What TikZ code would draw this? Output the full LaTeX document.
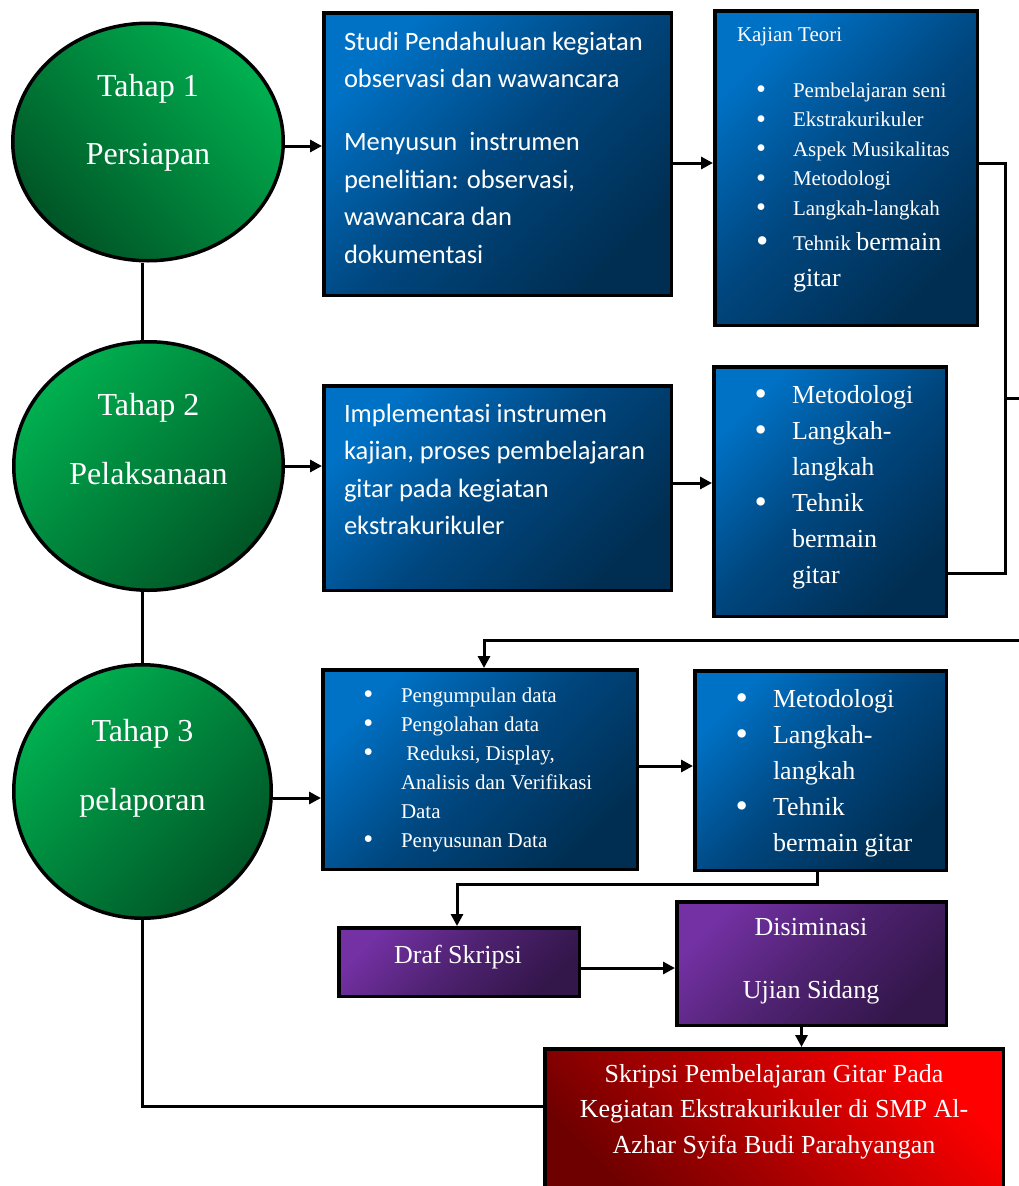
\documentclass[tikz,border=0pt]{standalone}
\usepackage{fontspec}
\setmainfont{Liberation Serif}
\newfontfamily\calib{Carlito}
\usetikzlibrary{arrows.meta,shapes.geometric}

\definecolor{hijauT}{HTML}{00B050}
\definecolor{hijauG}{HTML}{005526}
\definecolor{biruT}{HTML}{0072C6}
\definecolor{biruM}{HTML}{00467E}
\definecolor{biruG}{HTML}{002E52}
\definecolor{unguT}{HTML}{7331A3}
\definecolor{unguM}{HTML}{4E2270}
\definecolor{unguG}{HTML}{33164A}
\definecolor{merahT}{HTML}{FF0000}
\definecolor{merahG}{HTML}{6E0000}

\newcommand{\ukuran}[2]{\fontsize{#1}{#2}\selectfont}
\newcommand{\bul}[1]{\makebox[#1][l]{\raisebox{-0.08em}{\scalebox{1.35}{\textbullet}}}}
\newcommand{\atas}{\rule{0pt}{20pt}}

\begin{document}
\begin{tikzpicture}[x=1pt,y=-1pt,
	garis/.style={draw=black,line width=3pt},
	panah/.style={garis,-{Triangle[length=12pt,width=12pt]}},
	tahap/.style={ellipse,draw=black,line width=3.5pt,inner sep=0pt,
		top color=hijauT,bottom color=hijauG},
	kotak/.style={rectangle,draw=black,line width=3.5pt,inner sep=0pt,anchor=north west},
	biru/.style={kotak,top color=biruT,bottom color=biruG,middle color=biruM,shading angle=45},
	ungu/.style={kotak,top color=unguT,bottom color=unguG,middle color=unguM,shading angle=45},
	merah/.style={kotak,top color=merahT,bottom color=merahG,shading angle=-45},
	teks/.style={text=white,inner sep=0pt,outer sep=0pt},
	judul/.style={teks,font=\ukuran{32}{38},anchor=base},
	sans/.style={teks,font=\calib\ukuran{26.5}{37.5},align=left,anchor=north west},
	kecil/.style={teks,font=\ukuran{21}{29.5},align=left,anchor=north west},
	besar/.style={teks,font=\ukuran{26}{36},align=left,anchor=north west}]
	\useasboundingbox (0,0) rectangle (1019,1186);
	\clip (0,0) rectangle (1019,1186);
	\fill[white] (0,0) rectangle (1019,1186);

	% tahap
	\node[tahap,shading angle=-45,minimum width=270.5pt,minimum height=237.5pt] (c1) at (148,142) {};
	\node[tahap,shading angle=45,minimum width=269.5pt,minimum height=248.5pt] (c2) at (148.5,466) {};
	\node[tahap,shading angle=45,minimum width=257.5pt,minimum height=253.5pt] (c3) at (142.5,791.5) {};
	\node[judul] (c1a) at (148,96) {Tahap 1};
	\node[judul] (c1b) at (148,164) {Persiapan};
	\node[judul] (c2a) at (148.5,415) {Tahap 2};
	\node[judul] (c2b) at (148.5,484) {Pelaksanaan};
	\node[judul] (c3a) at (142.5,741) {Tahap 3};
	\node[judul] (c3b) at (142.5,810) {pelaporan};

	% kotak biru
	\node[biru,minimum width=347.5pt,minimum height=282.5pt] (b1a) at (322,11) {};
	\node[biru,minimum width=262.5pt,minimum height=314.5pt] (b1b) at (713,9) {};
	\node[biru,minimum width=347.5pt,minimum height=204.5pt] (b2a) at (322,384) {};
	\node[biru,minimum width=232.5pt,minimum height=249.5pt] (b2b) at (712,365) {};
	\node[biru,minimum width=314.5pt,minimum height=199.5pt] (b3a) at (321,668) {};
	\node[biru,minimum width=251.5pt,minimum height=199.5pt] (b3b) at (693,669) {};

	\node[sans] (t1a) at (344,30) {\atas Studi Pendahuluan kegiatan\\observasi dan wawancara\\[25.5pt]
		Menyusun\ \ instrumen\\penelitian: observasi,\\wawancara dan\\dokumentasi};
	\node[kecil,anchor=base west] (kt) at (737,41) {Kajian Teori};
	\node[kecil] (t1b) at (756,77) {\atas\bul{37pt}Pembelajaran seni\\\bul{37pt}Ekstrakurikuler\\
		\bul{37pt}Aspek Musikalitas\\\bul{37pt}Metodologi\\\bul{37pt}Langkah-langkah\\[5.5pt]
		{\ukuran{26}{36}\bul{37pt}}Tehnik {\ukuran{26}{36}bermain}\\[6.5pt]
		\hspace*{37pt}{\ukuran{26}{36}gitar}};
	\node[sans] (t2a) at (344,402) {\atas Implementasi instrumen\\kajian, proses pembelajaran\\
		gitar pada kegiatan\\ekstrakurikuler};
	\node[besar] (t2b) at (754.5,383) {\atas\bul{37.5pt}Metodologi\\\bul{37.5pt}Langkah-\\
		\hspace*{37.5pt}langkah\\\bul{37.5pt}Tehnik\\\hspace*{37.5pt}bermain\\\hspace*{37.5pt}gitar};
	\node[kecil,font=\ukuran{21}{29}] (t3a) at (363.3,682) {\atas\bul{37.7pt}Pengumpulan data\\
		\bul{37.7pt}Pengolahan data\\\bul{37.7pt}\ Reduksi, Display,\\
		\hspace*{37.7pt}Analisis dan Verifikasi\\\hspace*{37.7pt}Data\\\bul{37.7pt}Penyusunan Data};
	\node[besar] (t3b) at (735.5,687) {\atas\bul{37.5pt}Metodologi\\\bul{37.5pt}Langkah-\\
		\hspace*{37.5pt}langkah\\\bul{37.5pt}Tehnik\\\hspace*{37.5pt}bermain gitar};

	% kotak akhir
	\node[ungu,minimum width=240.5pt,minimum height=68.5pt] (draf) at (337,926) {};
	\node[ungu,minimum width=269.5pt,minimum height=123.5pt] (dis) at (675,900) {};
	\node[merah,minimum width=458.5pt,minimum height=153pt] (skr) at (543,1047) {};
	\node[judul,font=\ukuran{26}{36}] (drafT) at (458,963) {Draf Skripsi};
	\node[judul,font=\ukuran{26}{36}] (disA) at (811,935) {Disiminasi};
	\node[judul,font=\ukuran{26}{36}] (disB) at (811,998) {Ujian Sidang};
	\node[teks,font=\ukuran{26}{35.5},align=center,anchor=north] (skrT) at (774,1062)
		{\atas Skripsi Pembelajaran Gitar Pada\\Kegiatan Ekstrakurikuler di SMP Al-\\
		Azhar Syifa Budi Parahyangan};

	% penghubung
	\coordinate (kanan) at (1005,398);
	\coordinate (luar1) at (1040,398);
	\coordinate (luar2) at (1040,640);
	\coordinate (turun) at (484,640);
	\coordinate (belok) at (457,884);
	\draw[garis] (c1.south -| c3.north) -- (c2.north -| c3.north);
	\draw[garis] (c2.south -| c3.north) -- (c3.north);
	\draw[garis] (c3.south) |- ([yshift=19pt]skr.west);
	\draw[panah] ([yshift=-4pt]c1.east) -- ([yshift=-4pt]c1.east -| b1a.west);
	\draw[panah] ([yshift=5pt]b1b.west -| b1a.east) -- ([yshift=5pt]b1b.west);
	\draw[panah] (c2.east) -- (c2.east -| b2a.west);
	\draw[panah] ([yshift=5pt]b2a.east) -- ([yshift=5pt]b2a.east -| b2b.west);
	\draw[garis] ([yshift=5pt]b1b.east) -| (kanan) |- ([yshift=45pt]b2b.south east);
	\draw[panah] (kanan) -- (luar1) -- (luar2) -- (turun) -- (turun |- b3a.north);
	\draw[panah] ([yshift=-6.5pt]c3.east) -- ([yshift=-6.5pt]c3.east -| b3a.west);
	\draw[panah] ([yshift=3.5pt]b3a.east) -- ([yshift=3.5pt]b3a.east -| b3b.west);
	\draw[panah] ([xshift=-3.5pt]b3b.south) |- (belok) -- (belok |- draf.north);
	\draw[panah] ([yshift=-6pt]draf.east) -- ([yshift=-6pt]draf.east -| dis.west);
	\draw[panah] ([xshift=-10pt]dis.south) -- ([xshift=-10pt]dis.south |- skr.north);
\end{tikzpicture}
\end{document}
